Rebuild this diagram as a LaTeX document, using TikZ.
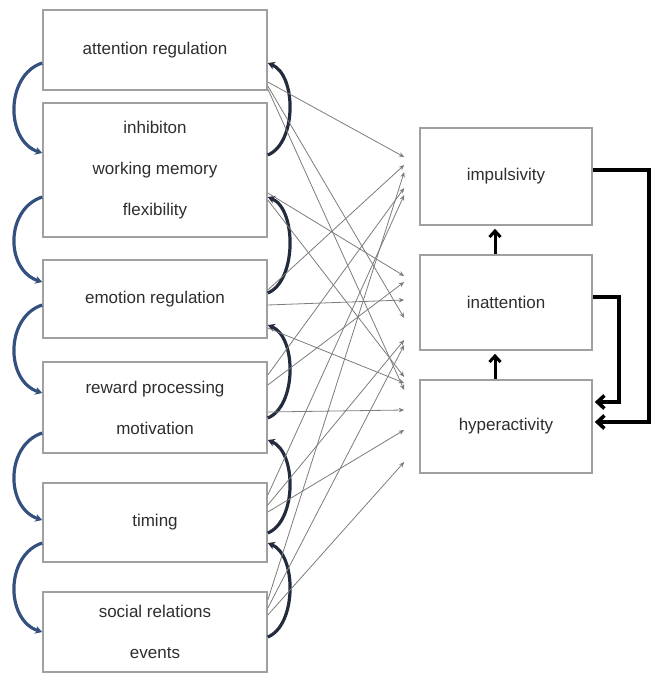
\documentclass[tikz,border=0pt]{standalone}
\usepackage{fontspec}
\setmainfont{Liberation Sans}
\usetikzlibrary{arrows.meta}
\definecolor{boxgray}{HTML}{A0A0A0}
\definecolor{linegray}{HTML}{7C7C7C}
\definecolor{arcblue}{HTML}{34507F}
\definecolor{arcdark}{HTML}{232B3C}
\definecolor{txt}{HTML}{2E2E2E}
\begin{document}
\begin{tikzpicture}[x=1pt,y=-1pt,
  box/.style={draw=boxgray, line width=1.6pt, fill=white, minimum width=224pt,
    inner sep=0pt, align=center, text=txt, font=\fontsize{17}{41}\selectfont},
  rbox/.style={box, minimum width=172pt},
  infl/.style={draw=linegray, line width=0.8pt, -{Stealth[length=5.5pt,width=4.5pt]}},
  larc/.style={draw=arcblue, line width=3.2pt, -{Stealth[length=7pt,width=8pt]}},
  rarc/.style={draw=arcdark, line width=3.2pt, {Stealth[length=7pt,width=8pt]}-},
  uparr/.style={draw=black, line width=3pt, -{Straight Barb[length=6pt,width=11pt]}},
  fb/.style={draw=black, line width=3.6pt, -{Straight Barb[length=7pt,width=13pt]}}]
\useasboundingbox (0,0) rectangle (656,676);
% left boxes
\node[box, minimum height=80pt]  (b1) at (155,50)    {attention regulation};
\node[box, minimum height=134pt] (b2) at (155,170)   {inhibiton\\working memory\\flexibility};
\node[box, minimum height=78pt]  (b3) at (155,299)   {emotion regulation};
\node[box, minimum height=91pt]  (b4) at (155,407.5) {reward processing\\motivation};
\node[box, minimum height=79pt]  (b5) at (155,522.5) {timing};
\node[box, minimum height=80pt]  (b6) at (155,632)   {social relations\\events};
% right boxes
\node[rbox, minimum height=97pt] (r1) at (506,176.5) {impulsivity};
\node[rbox, minimum height=95pt] (r2) at (506,302.5) {inattention};
\node[rbox, minimum height=93pt] (r3) at (506,426.5) {hyperactivity};
% left arcs
\draw[larc] ([yshift=-13pt]b1.west) .. controls +(-37,12) and +(-37,-12) .. ([yshift=17pt]b2.west);
\draw[larc] ([yshift=-27pt]b2.west) .. controls +(-37,12) and +(-37,-12) .. ([yshift=17pt]b3.west);
\draw[larc] ([yshift=-6pt]b3.west) .. controls +(-37,12) and +(-37,-12) .. ([yshift=14.5pt]b4.west);
\draw[larc] ([yshift=-25.5pt]b4.west) .. controls +(-37,12) and +(-37,-12) .. ([yshift=2.5pt]b5.west);
\draw[larc] ([yshift=-20.5pt]b5.west) .. controls +(-37,12) and +(-37,-12) .. (b6.west);
% right arcs
\draw[rarc] ([yshift=-13pt]b1.east) .. controls +(29,12) and +(29,-12) .. ([yshift=15pt]b2.east);
\draw[rarc] ([yshift=-27pt]b2.east) .. controls +(29,12) and +(29,-12) .. ([yshift=6pt]b3.east);
\draw[rarc] ([yshift=-26pt]b3.east) .. controls +(29,12) and +(29,-12) .. ([yshift=-10.5pt]b4.east);
\draw[rarc] ([yshift=-32.5pt]b4.east) .. controls +(29,12) and +(29,-12) .. ([yshift=-10.5pt]b5.east);
\draw[rarc] ([yshift=-20.5pt]b5.east) .. controls +(29,12) and +(29,-12) .. ([yshift=-5pt]b6.east);
% influence lines
\draw[infl] ([yshift=-32pt]b1.east) -- ([xshift=-15pt,yshift=19.5pt]r1.west);
\draw[infl] ([yshift=-36pt]b1.east) -- ([xshift=-15pt,yshift=-15.5pt]r2.west);
\draw[infl] ([yshift=-39pt]b1.east) -- ([xshift=-15pt,yshift=36.5pt]r3.west);
\draw[infl] ([yshift=-23pt]b2.east) -- ([xshift=-15pt,yshift=26.5pt]r2.west);
\draw[infl] ([yshift=-30pt]b2.east) -- ([xshift=-15pt,yshift=49.5pt]r3.west);
\draw[infl] ([yshift=9pt]b3.east) -- ([xshift=-15pt,yshift=11.5pt]r1.west);
\draw[infl] ([yshift=-6pt]b3.east) -- ([xshift=-15pt,yshift=2.5pt]r2.west);
\draw[infl] ([yshift=-29pt]b3.east) -- ([xshift=-15pt,yshift=43.5pt]r3.west);
\draw[infl] ([yshift=32.5pt]b4.east) -- ([xshift=-15pt,yshift=-11.5pt]r1.west);
\draw[infl] ([yshift=22.5pt]b4.east) -- ([xshift=-15pt,yshift=20.5pt]r2.west);
\draw[infl] ([yshift=-4.5pt]b4.east) -- ([xshift=-15pt,yshift=16.5pt]r3.west);
\draw[infl] ([yshift=27.5pt]b5.east) -- ([xshift=-15pt,yshift=-18.5pt]r1.west);
\draw[infl] ([yshift=17.5pt]b5.east) -- ([xshift=-15pt,yshift=-37.5pt]r2.west);
\draw[infl] ([yshift=10.5pt]b5.east) -- ([xshift=-15pt,yshift=-3.5pt]r3.west);
\draw[infl] ([yshift=32pt]b6.east) -- ([xshift=-15pt,yshift=4.5pt]r1.west);
\draw[infl] ([yshift=24pt]b6.east) -- ([xshift=-15pt,yshift=-42.5pt]r2.west);
\draw[infl] ([yshift=17pt]b6.east) -- ([xshift=-15pt,yshift=-35.5pt]r3.west);
% symptom arrows
\draw[uparr] ([xshift=-11pt]r2.north) -- ([xshift=-11pt,yshift=-3pt]r1.south);
\draw[uparr] ([xshift=-11pt]r3.north) -- ([xshift=-11pt,yshift=-3pt]r2.south);
\draw[fb] ([yshift=6.5pt]r1.east) -- ++(56,0) |- ([xshift=2pt,yshift=4.5pt]r3.east);
\draw[fb] ([yshift=5.5pt]r2.east) -- ++(26,0) |- ([xshift=2pt,yshift=24.5pt]r3.east);
\end{tikzpicture}
\end{document}
